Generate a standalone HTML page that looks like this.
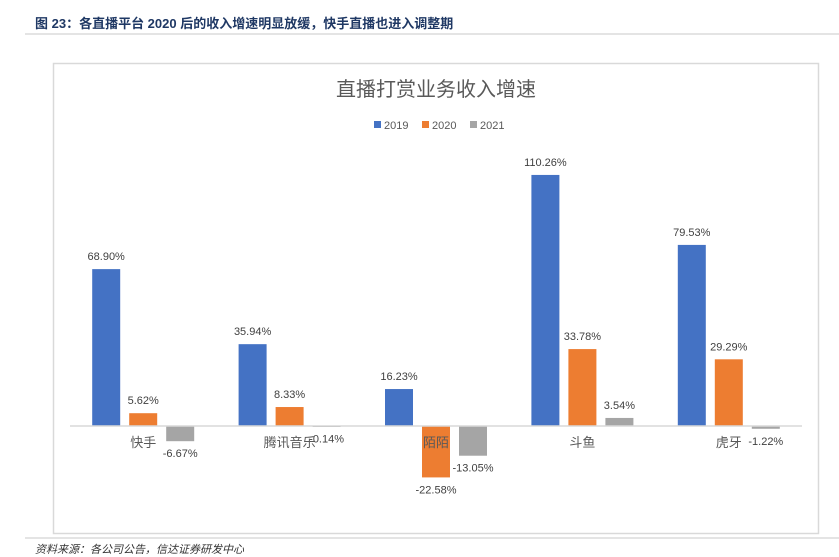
<!DOCTYPE html>
<html><head><meta charset="utf-8"><style>
body{margin:0;width:839px;height:554px;background:#fff;overflow:hidden;font-family:"Liberation Sans","Noto Sans CJK SC",sans-serif}
</style></head><body>
<div style="position:absolute;left:35px;top:13px;font-size:13px;font-weight:bold;color:#1f3864;font-family:'Liberation Sans','Noto Sans CJK SC',sans-serif">图 23：各直播平台 2020 后的收入增速明显放缓，快手直播也进入调整期</div>
<div style="position:absolute;left:25px;top:33px;width:814px;height:2px;background:#e4e4e4"></div>
<div style="position:absolute;left:25px;top:537px;width:814px;height:2px;background:#e4e4e4"></div>
<div style="position:absolute;left:35px;top:541px;font-size:11px;font-style:italic;color:#333">资料来源：各公司公告，信达证券研发中心</div>
<svg id="chart" width="839" height="554" style="position:absolute;left:0;top:0">
<rect x="53.5" y="63.5" width="765" height="470" fill="#fff" stroke="#d9d9d9" stroke-width="1.5"/>
<text x="436" y="96" text-anchor="middle" font-size="20" fill="#595959">直播打赏业务收入增速</text>
</svg>
<script>
const categories=["快手","腾讯音乐","陌陌","斗鱼","虎牙"];
const series2019=[68.90,35.94,16.23,110.26,79.53];
const series2020=[5.62,8.33,-22.58,33.78,29.29];
const series2021=[-6.67,-0.14,-13.05,3.54,-1.22];
const seriesNames=["2019","2020","2021"];
const colors=["#4472c4","#ed7d31","#a5a5a5"];
const svg=document.getElementById('chart');
const NS='http://www.w3.org/2000/svg';
const x0=70,x1=802,base=426,k=2.277;
const gw=(x1-x0)/categories.length;
const y=v=>base-v*k;
const gc=i=>x0+gw*(i+0.5);
function mk(t,a){const e=document.createElementNS(NS,t);for(const n in a)e.setAttribute(n,a[n]);svg.appendChild(e);return e;}
// legend
seriesNames.forEach((n,j)=>{
 const lx=374+j*48;
 const r=mk('rect',{x:lx,y:121,width:7,height:7,fill:colors[j]});
 
 
 const t=mk('text',{x:lx+10,y:129,'font-size':11,fill:'#595959'});
 t.textContent=n;
 
 
});
const all=[series2019,series2020,series2021];
categories.forEach((c,i)=>{
 all.forEach((s,j)=>{
  const v=s[i];const bx=gc(i)-51+j*37;
  const top=Math.min(y(v),base),h=Math.abs(y(v)-base);
  const r=mk('rect',{x:bx,y:top,width:28,height:Math.max(h,1),fill:colors[j]});
  
  
  const ly=v>=0?y(v)-9:y(v)+16;
  const t=mk('text',{x:bx+14,y:ly,'text-anchor':'middle','font-size':11,fill:'#404040'});
  t.textContent=v.toFixed(2)+'%';
  
  
 });
 const t=mk('text',{x:gc(i),y:447,'text-anchor':'middle','font-size':13,fill:'#595959'});
 t.textContent=c;
 
 
});
const ax=mk('line',{x1:x0,x2:x1,y1:base,y2:base,stroke:'#d9d9d9','stroke-width':1.5});


</script>
</body></html>
